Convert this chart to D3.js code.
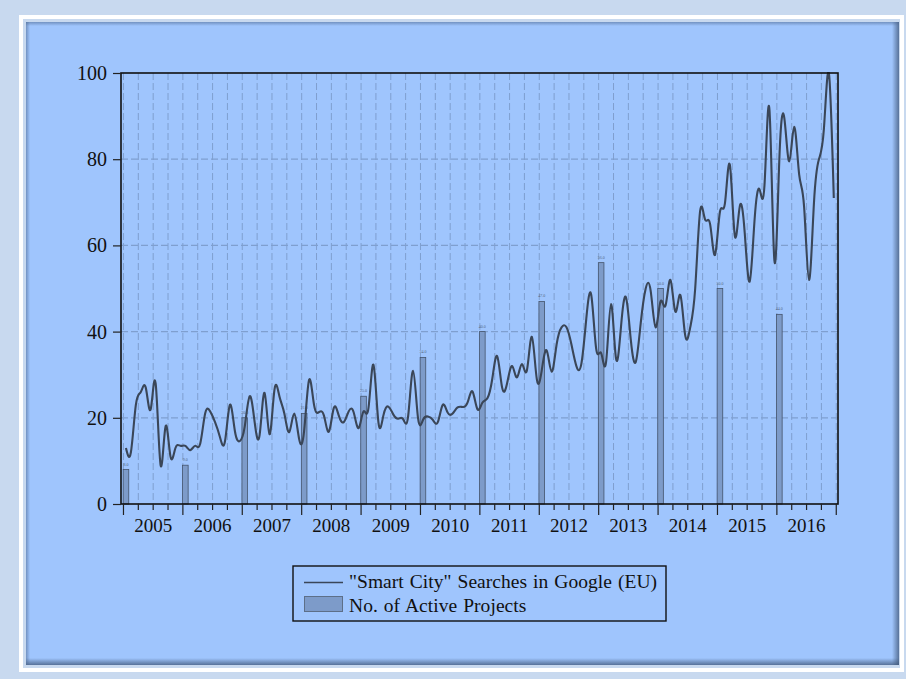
<!DOCTYPE html>
<html>
<head>
<meta charset="utf-8">
<script src="https://cdn.jsdelivr.net/npm/d3@7"></script>
<style>
    body { margin: 0; padding: 0; background: #c8d9ef; }
    svg { display: block; }
</style>
</head>
<body>
<div id="chartId"></div>
<script>

// monthly "Smart City" search index, Jan 2005 .. Dec 2016
const searchIndex = [
    13, 12, 23, 26, 27, 22, 28, 9, 18, 11, 13, 13.5,
    13.5, 12.5, 13.5, 14, 21, 21.5, 19, 15.5, 14.5, 23, 17, 14.6,
    18, 25, 19, 16, 25.8, 16.2, 26.5, 25, 21, 16.7, 21, 15,
    17, 28.8, 23, 21.3, 20.5, 16.8, 22.3, 20.5, 19, 21.5, 21.3, 17.6,
    21.5, 22.3, 32.3, 19, 20.5, 22.6, 20.8, 19.8, 19.7, 20.3, 30.9, 20,
    19.5, 20.3, 19.5, 19, 23, 21.2, 21, 22.4, 22.5, 23.5, 26.1, 22,
    23.5, 24.5, 29, 34.3, 27, 28, 32, 29.4, 32.5, 31, 38.8, 29,
    31, 35.6, 30.7, 37, 41, 41, 37, 32, 32.5, 43, 48.5, 36,
    35, 33, 46.4, 33.8, 41, 48, 38, 33, 42, 50, 49.5, 41,
    47, 46, 52, 44.6, 48.5, 39, 41, 50, 68, 66, 65, 57.8,
    67.8, 69.7, 78.7, 62.3, 69, 63, 51.6, 66, 73, 74, 91.5, 56.5,
    80, 89.6, 79.5, 87.5, 76.5, 69, 52, 70, 80, 87, 100, 71
]

// active projects, one bar per year (placed at January)
const projectYears = [2005, 2006, 2007, 2008, 2009, 2010, 2011, 2012, 2013, 2014, 2015, 2016]
const activeProjects = [8, 9, 20, 21, 25, 34, 40, 47, 56, 50, 50, 44]

const yTicks = [0, 20, 40, 60, 80, 100]
const yearLabels = ["2005", "2006", "2007", "2008", "2009", "2010", "2011", "2012", "2013", "2014", "2015", "2016"]

const legendLabels = ["\"Smart City\" Searches in Google (EU)", "No. of Active Projects"]

const WIDTH = 906
const HEIGHT = 679
const PANEL_COLOR = "#9fc5fd"
const GRID_COLOR = "#7f9fcf"
const LINE_COLOR = "#3a4658"
const BAR_COLOR = "#7d9bc9"
const BAR_STROKE = "#44546c"
const FONT = "'Liberation Serif', 'Times New Roman', serif"

const plot = {left: 121, right: 838, top: 73, bottom: 504}

let svg = d3.select("div#chartId")
    .append("svg")
    .attr("width", WIDTH)
    .attr("height", HEIGHT)

let defs = svg.append("defs")

function edgeGradient(id, x1, y1, x2, y2, color, opacity) {
    let g = defs.append("linearGradient")
        .attr("id", id)
        .attr("x1", x1).attr("y1", y1)
        .attr("x2", x2).attr("y2", y2)
    g.append("stop").attr("offset", "0%").attr("stop-color", color).attr("stop-opacity", 0)
    g.append("stop").attr("offset", "100%").attr("stop-color", color).attr("stop-opacity", opacity)
}
edgeGradient("shadowRight", 0, 0, 1, 0, "#3f5678", 0.75)
edgeGradient("shadowBottom", 0, 0, 0, 1, "#3f5678", 0.75)
edgeGradient("shadowLeft", 1, 0, 0, 0, "#4d6890", 0.55)
edgeGradient("shadowTop", 0, 1, 0, 0, "#4d6890", 0.55)

// outer background, white ring and panel
svg.append("rect")
    .attr("width", WIDTH)
    .attr("height", HEIGHT)
    .attr("fill", "#c8d9ef")
svg.append("rect")
    .attr("x", 21)
    .attr("y", 17)
    .attr("width", 881)
    .attr("height", 653)
    .attr("fill", "none")
    .attr("stroke", "#ffffff")
    .attr("stroke-width", 4)

let panel = {x: 26, y: 22, w: 873, h: 643}
svg.append("rect")
    .attr("x", panel.x)
    .attr("y", panel.y)
    .attr("width", panel.w)
    .attr("height", panel.h)
    .attr("fill", PANEL_COLOR)
svg.append("rect")
    .attr("x", panel.x + panel.w - 7).attr("y", panel.y)
    .attr("width", 7).attr("height", panel.h)
    .attr("fill", "url(#shadowRight)")
svg.append("rect")
    .attr("x", panel.x).attr("y", panel.y + panel.h - 7)
    .attr("width", panel.w).attr("height", 7)
    .attr("fill", "url(#shadowBottom)")
svg.append("rect")
    .attr("x", panel.x).attr("y", panel.y)
    .attr("width", 4).attr("height", panel.h)
    .attr("fill", "url(#shadowLeft)")
svg.append("rect")
    .attr("x", panel.x).attr("y", panel.y)
    .attr("width", panel.w).attr("height", 4)
    .attr("fill", "url(#shadowTop)")

// scales: x is month index from Jan 2005
let x = d3.scaleLinear()
    .domain([-1, 143.85])
    .range([plot.left, plot.right])
let y = d3.scaleLinear()
    .domain([0, 100])
    .range([plot.bottom, plot.top])

let quarterTicks = d3.range(-0.5, 144, 3)
let isYearTick = v => Math.round(v + 0.5) % 12 === 0

let chart = svg.append("g")

// grid
chart.append("g")
    .selectAll("line")
    .data(quarterTicks.filter(v => x(v) > plot.left + 1 && x(v) < plot.right - 1))
    .join("line")
    .attr("x1", d => x(d))
    .attr("x2", d => x(d))
    .attr("y1", plot.top)
    .attr("y2", plot.bottom)
    .attr("stroke", GRID_COLOR)
    .attr("stroke-width", 1)
    .attr("stroke-dasharray", "7,3")
chart.append("g")
    .selectAll("line")
    .data(yTicks.slice(1, -1))
    .join("line")
    .attr("x1", plot.left)
    .attr("x2", plot.right)
    .attr("y1", d => y(d))
    .attr("y2", d => y(d))
    .attr("stroke", GRID_COLOR)
    .attr("stroke-width", 1.2)
    .attr("stroke-dasharray", "7,3")

// bars
let barWidth = 5.6
chart.append("g")
    .selectAll("rect")
    .data(activeProjects)
    .join("rect")
    .attr("x", (d, i) => x((projectYears[i] - 2005) * 12) - barWidth / 2)
    .attr("y", d => y(d))
    .attr("width", barWidth)
    .attr("height", d => y(0) - y(d))
    .attr("fill", BAR_COLOR)
    .attr("stroke", BAR_STROKE)
    .attr("stroke-width", 0.8)

// tiny value marks above bars
chart.append("g")
    .selectAll("text")
    .data(activeProjects)
    .join("text")
    .attr("x", (d, i) => x((projectYears[i] - 2005) * 12))
    .attr("y", d => y(d) - 4)
    .attr("text-anchor", "middle")
    .attr("font-family", FONT)
    .attr("font-size", 4)
    .attr("fill", "#55657d")
    .text(d => d.toFixed(1))

// search line
svg.append("clipPath")
    .attr("id", "plotClip")
    .append("rect")
    .attr("x", plot.left)
    .attr("y", plot.top - 1)
    .attr("width", plot.right - plot.left)
    .attr("height", plot.bottom - plot.top + 1)

let line = d3.line()
    .x((d, i) => x(i))
    .y(d => y(d))
    .curve(d3.curveNatural)
chart.append("path")
    .attr("d", line(searchIndex))
    .attr("clip-path", "url(#plotClip)")
    .attr("fill", "none")
    .attr("stroke", LINE_COLOR)
    .attr("stroke-width", 2.1)
    .attr("stroke-linejoin", "round")

// frame
chart.append("rect")
    .attr("x", plot.left)
    .attr("y", plot.top)
    .attr("width", plot.right - plot.left)
    .attr("height", plot.bottom - plot.top)
    .attr("fill", "none")
    .attr("stroke", "#111111")
    .attr("stroke-width", 1.6)

// y axis
let yAxis = chart.append("g")
    .attr("transform", "translate(" + plot.left + ",0)")
    .call(d3.axisLeft(y).tickValues(yTicks).tickSize(8).tickPadding(6).tickFormat(d3.format("d")))
yAxis.select(".domain").remove()
yAxis.selectAll("line").attr("stroke", "#222222").attr("stroke-width", 1.2)
yAxis.selectAll("text")
    .attr("font-family", FONT)
    .attr("font-size", 20)
    .attr("fill", "#111111")

// x axis: quarter ticks, longer at year starts
let xTicks = chart.append("g")
xTicks.selectAll("line")
    .data(quarterTicks)
    .join("line")
    .attr("x1", d => x(d))
    .attr("x2", d => x(d))
    .attr("y1", plot.bottom)
    .attr("y2", d => plot.bottom + (isYearTick(d) ? 11 : 6))
    .attr("stroke", "#222222")
    .attr("stroke-width", 1.2)
xTicks.selectAll("text")
    .data(yearLabels)
    .join("text")
    .attr("x", (d, i) => x(i * 12 + 5.5))
    .attr("y", 532)
    .attr("text-anchor", "middle")
    .attr("font-family", FONT)
    .attr("font-size", 19)
    .attr("fill", "#111111")
    .text(d => d)

// legend
let legend = svg.append("g")
legend.append("rect")
    .attr("x", 293)
    .attr("y", 566)
    .attr("width", 373)
    .attr("height", 55)
    .attr("fill", "none")
    .attr("stroke", "#111111")
    .attr("stroke-width", 1.4)
legend.append("line")
    .attr("x1", 304)
    .attr("x2", 343)
    .attr("y1", 582.5)
    .attr("y2", 582.5)
    .attr("stroke", LINE_COLOR)
    .attr("stroke-width", 1.5)
legend.append("rect")
    .attr("x", 304.5)
    .attr("y", 596.5)
    .attr("width", 38)
    .attr("height", 15)
    .attr("fill", BAR_COLOR)
    .attr("stroke", "#5d6f88")
    .attr("stroke-width", 1)
legend.selectAll("text")
    .data(legendLabels)
    .join("text")
    .attr("x", 349)
    .attr("y", (d, i) => 588 + i * 23.5)
    .attr("font-family", FONT)
    .attr("font-size", 19.5)
    .attr("letter-spacing", 0.05)
    .attr("word-spacing", 1)
    .attr("fill", "#111111")
    .text(d => d)

</script>
</body>
</html>
